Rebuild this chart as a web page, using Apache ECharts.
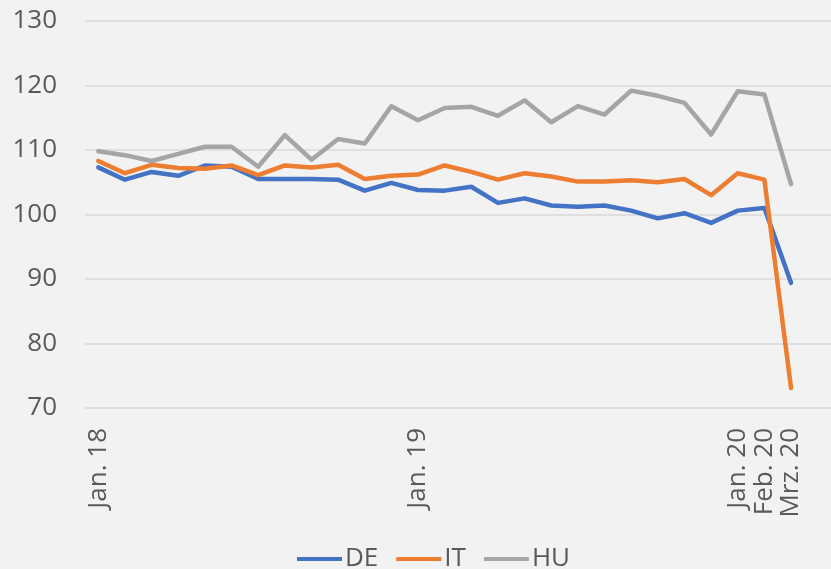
<!DOCTYPE html>
<html>
<head>
<meta charset="utf-8">
<script src="https://cdn.jsdelivr.net/npm/echarts@6/dist/echarts.min.js"></script>
<style>
  html, body { margin: 0; padding: 0; background: #f2f2f2; }
  #chart { width: 831px; height: 569px; }
</style>
</head>
<body>
<div id="chart"></div>
<script>
// Monate Jan. 18 - Mrz. 20
var months = [
  "Jan. 18", "Feb. 18", "Mrz. 18", "Apr. 18", "Mai. 18", "Jun. 18",
  "Jul. 18", "Aug. 18", "Sep. 18", "Okt. 18", "Nov. 18", "Dez. 18",
  "Jan. 19", "Feb. 19", "Mrz. 19", "Apr. 19", "Mai. 19", "Jun. 19",
  "Jul. 19", "Aug. 19", "Sep. 19", "Okt. 19", "Nov. 19", "Dez. 19",
  "Jan. 20", "Feb. 20", "Mrz. 20"
];
// nur diese Beschriftungen werden gezeigt
var shownLabels = ["Jan. 18", "Jan. 19", "Jan. 20", "Feb. 20", "Mrz. 20"];

var de = [107.3, 105.4, 106.6, 106.0, 107.6, 107.4, 105.5, 105.5, 105.5, 105.4, 103.7, 104.9,
          103.8, 103.7, 104.3, 101.8, 102.5, 101.4, 101.2, 101.4, 100.6, 99.4, 100.2, 98.7,
          100.6, 101.0, 89.4];
var it = [108.3, 106.4, 107.7, 107.2, 107.1, 107.6, 106.1, 107.6, 107.3, 107.7, 105.5, 106.0,
          106.2, 107.6, 106.6, 105.4, 106.4, 105.9, 105.1, 105.1, 105.3, 105.0, 105.5, 103.0,
          106.4, 105.4, 73.1];
var hu = [109.8, 109.2, 108.3, 109.4, 110.5, 110.5, 107.4, 112.3, 108.5, 111.7, 111.0, 116.8,
          114.6, 116.5, 116.7, 115.3, 117.7, 114.3, 116.8, 115.5, 119.2, 118.4, 117.3, 112.4,
          119.1, 118.6, 104.7];

var font = "'Open Sans', 'Liberation Sans', sans-serif";
var textColor = "#595959";

// eine leere Kategorie rechts, damit die Gitterlinien bis zum Rand laufen
var categories = months.concat([""]);

function lineSeries(name, data, color) {
  return {
    name: name,
    type: "line",
    data: data,
    symbol: "none",
    lineStyle: { width: 4.5, color: color, cap: "round", join: "round" },
    itemStyle: { color: color }
  };
}

var chart = echarts.init(document.getElementById("chart"));
chart.setOption({
  backgroundColor: "#f2f2f2",
  animation: false,
  grid: { left: 85, top: 21, width: 750, height: 387 },
  legend: {
    left: 297,
    top: 546,
    padding: 0,
    itemGap: 18,
    itemWidth: 45,
    itemHeight: 4,
    icon: "rect",
    textStyle: { color: textColor, fontSize: 26, fontFamily: font, padding: [0, 0, 0, -2] },
    data: ["DE", "IT", "HU"]
  },
  xAxis: {
    type: "category",
    data: categories,
    boundaryGap: true,
    axisLine: { show: false },
    axisTick: { show: false },
    axisLabel: {
      rotate: 90,
      margin: 20,
      color: textColor,
      fontSize: 26,
      fontFamily: font,
      interval: function (index, value) {
        return shownLabels.indexOf(value) >= 0;
      }
    }
  },
  yAxis: {
    type: "value",
    min: 70,
    max: 130,
    interval: 10,
    axisLine: { show: false },
    axisTick: { show: false },
    axisLabel: { color: textColor, fontSize: 26, fontFamily: font, margin: 28 },
    splitLine: { lineStyle: { color: "#d9d9d9", width: 1.5 } }
  },
  series: [
    lineSeries("DE", de, "#4472c4"),
    lineSeries("IT", it, "#ed7d31"),
    lineSeries("HU", hu, "#a5a5a5")
  ]
});
</script>
</body>
</html>
